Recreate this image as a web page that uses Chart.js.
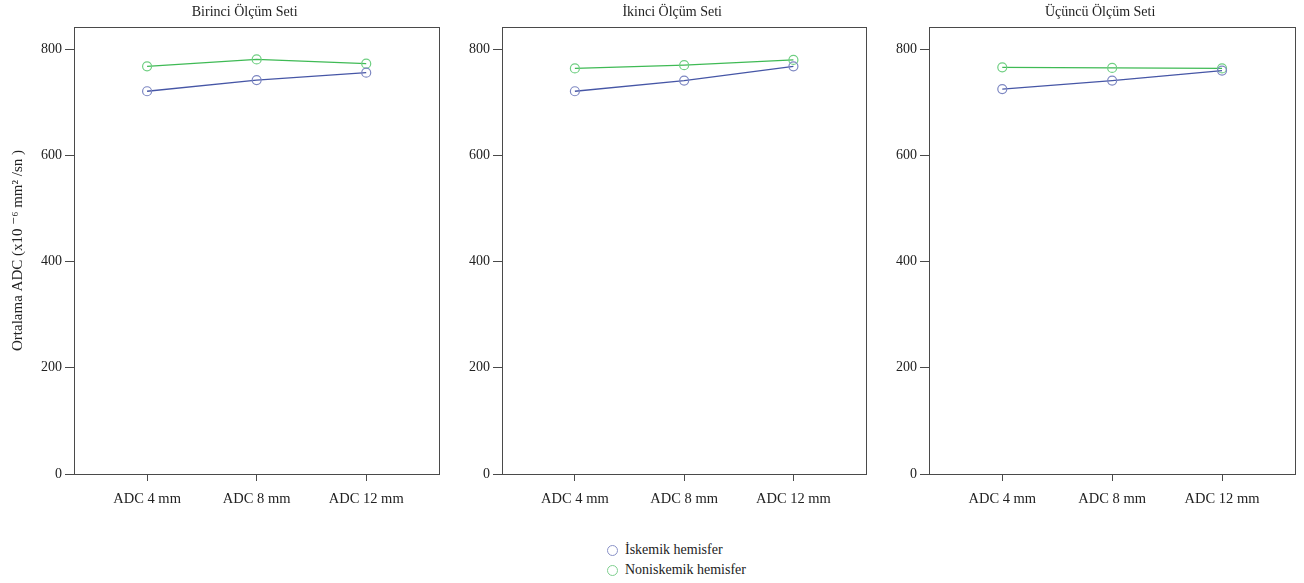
<!DOCTYPE html>
<html>
<head>
<meta charset="utf-8">
<script src="https://cdn.jsdelivr.net/npm/chart.js@4"></script>
<style>
  body { margin: 0; background: #fff; width: 1304px; height: 583px; position: relative; overflow: hidden; }
  canvas { position: absolute; top: 0; }
  #legend { position: absolute; left: 607px; top: 540px; font-family: "Liberation Serif", serif; font-size: 14px; color: #222; line-height: 20px; }
  #legend div { display: flex; align-items: center; }
  #legend span.dot { display: inline-block; width: 11px; height: 11px; border-radius: 50%; border: 1.3px solid; margin-right: 7px; box-sizing: border-box; }
</style>
</head>
<body>
<canvas id="c1" width="445" height="520" style="left:0px"></canvas>
<canvas id="c2" width="444" height="520" style="left:428px"></canvas>
<canvas id="c3" width="446" height="520" style="left:855px"></canvas>
<div id="legend"></div>
<script>
// veriler
const categories = ['ADC 4 mm', 'ADC 8 mm', 'ADC 12 mm'];
const panelTitles = ['Birinci Ölçüm Seti', 'İkinci Ölçüm Seti', 'Üçüncü Ölçüm Seti'];
const seriesNames = ['İskemik hemisfer', 'Noniskemik hemisfer'];
const yTicks = [0, 200, 400, 600, 800];

const iskemik1 = [721, 742, 756];
const noniskemik1 = [768, 781, 773];
const iskemik2 = [721, 741, 768];
const noniskemik2 = [764, 770, 780];
const iskemik3 = [725, 741, 760];
const noniskemik3 = [766, 765, 764];

const blueLine = '#4656a6', bluePoint = '#7d87c2';
const greenLine = '#3fba55', greenPoint = '#6fcf82';
const axisColor = '#4a4a4a';
const serif = '"Liberation Serif", "DejaVu Serif", serif';

// çerçeve ve başlık
const framePlugin = {
    id: 'frame',
    afterDraw(chart) {
        const a = chart.chartArea, ctx = chart.ctx;
        ctx.save();
        ctx.strokeStyle = axisColor;
        ctx.lineWidth = 1;
        ctx.strokeRect(Math.round(a.left) + 0.5, Math.round(a.top) + 0.5,
            Math.round(a.right - a.left), Math.round(a.bottom - a.top));
        ctx.fillStyle = '#222';
        ctx.font = '14px ' + serif;
        ctx.textAlign = 'center';
        ctx.textBaseline = 'middle';
        ctx.fillText(chart.options.plugins.panelTitle, (a.left + a.right) / 2 - 12, 12);
        ctx.restore();
    }
};

function toPoints(arr) {
    return arr.map((v, i) => ({ x: i, y: v }));
}

function makeChart(id, title, isk, non, showYTitle) {
    return new Chart(document.getElementById(id), {
        type: 'line',
        data: {
            datasets: [
                { label: seriesNames[0], data: toPoints(isk), borderColor: blueLine, borderWidth: 1.3,
                  pointBorderColor: bluePoint, pointBackgroundColor: 'rgba(0,0,0,0)', pointRadius: 4.5, pointBorderWidth: 1.2 },
                { label: seriesNames[1], data: toPoints(non), borderColor: greenLine, borderWidth: 1.3,
                  pointBorderColor: greenPoint, pointBackgroundColor: 'rgba(0,0,0,0)', pointRadius: 4.5, pointBorderWidth: 1.2 }
            ]
        },
        options: {
            responsive: false, animation: false,
            layout: { padding: { top: 27, right: 3, left: 0, bottom: 0 } },
            plugins: { legend: { display: false }, tooltip: { enabled: false }, panelTitle: title },
            scales: {
                x: {
                    type: 'linear', min: -0.667, max: 2.667,
                    afterBuildTicks: s => { s.ticks = categories.map((c, i) => ({ value: i })); },
                    afterFit: s => { s.height = 46; },
                    ticks: { callback: v => categories[v], color: '#222', font: { family: serif, size: 14.5 }, padding: 9, maxRotation: 0 },
                    grid: { drawOnChartArea: false, tickLength: 7, color: axisColor },
                    border: { color: axisColor }
                },
                y: {
                    min: 0, max: 842,
                    afterBuildTicks: s => { s.ticks = yTicks.map(v => ({ value: v })); },
                    afterFit: s => { s.width = 74; },
                    ticks: { color: '#222', font: { family: serif, size: 14 }, padding: 3 },
                    grid: { drawOnChartArea: false, tickLength: 9, color: axisColor },
                    border: { color: axisColor },
                    title: { display: showYTitle, text: 'Ortalama ADC (x10 ⁻⁶ mm² /sn )', color: '#222', font: { family: serif, size: 15 }, padding: { top: 9, bottom: 0 } }
                }
            }
        },
        plugins: [framePlugin]
    });
}

makeChart('c1', panelTitles[0], iskemik1, noniskemik1, true);
makeChart('c2', panelTitles[1], iskemik2, noniskemik2, false);
makeChart('c3', panelTitles[2], iskemik3, noniskemik3, false);

// açıklama
const legend = document.getElementById('legend');
[[seriesNames[0], '#8a92c8'], [seriesNames[1], '#7fd08f']].forEach(([name, col]) => {
    const row = document.createElement('div');
    row.innerHTML = '<span class="dot" style="border-color:' + col + '"></span>' + name;
    legend.appendChild(row);
});
</script>
</body>
</html>
